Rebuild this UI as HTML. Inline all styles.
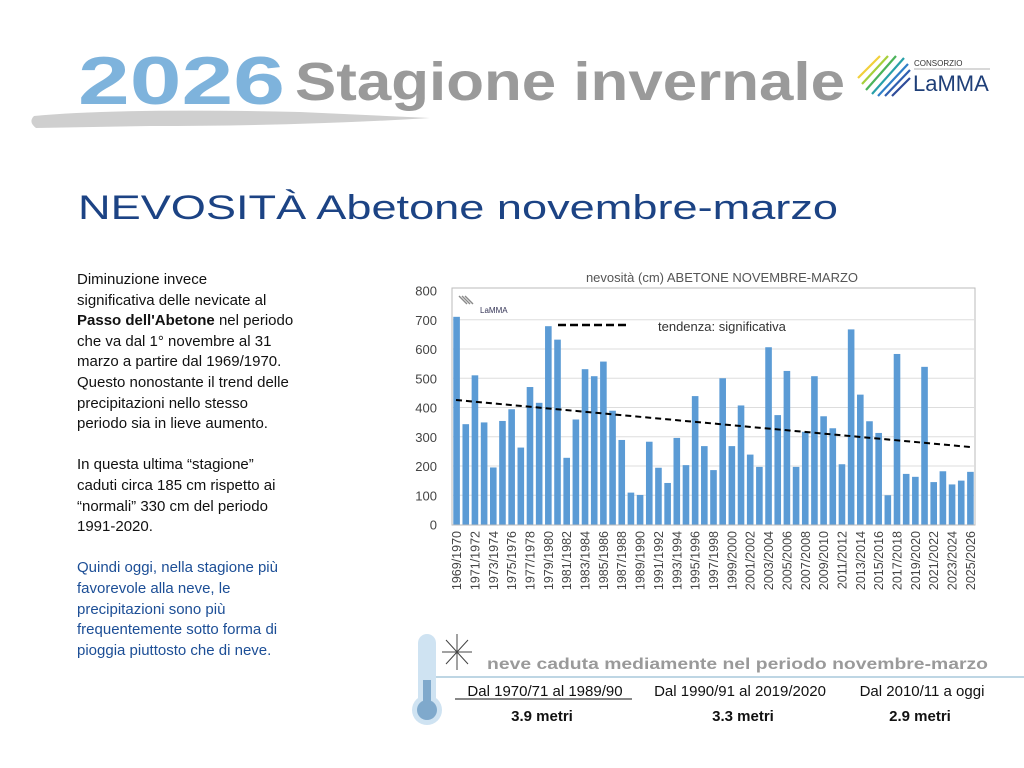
<!DOCTYPE html>
<html><head><meta charset="utf-8"><style>
body{margin:0;width:1024px;height:768px;background:#fff;overflow:hidden;position:relative;font-family:"Liberation Sans",sans-serif}
.abs{position:absolute;white-space:nowrap}
</style></head><body>
<svg width="1024" height="768" style="position:absolute;left:0;top:0" id="s">
<path d="M34 116 Q120 108 300 112 L430 118 Q300 126 150 126 L36 128 Q28 122 34 116Z" fill="#cfcfcf"/>
<text x="78" y="104" font-family="Liberation Sans" font-weight="bold" font-size="68" fill="#7eb3dc" textLength="207" lengthAdjust="spacingAndGlyphs">2026</text>
<text x="295" y="100" font-family="Liberation Sans" font-weight="bold" font-size="54" fill="#9a9a9a" textLength="550" lengthAdjust="spacingAndGlyphs">Stagione invernale</text>
<g stroke-width="2.2">
<line x1="858" y1="78" x2="880" y2="56" stroke="#f2d03a"/><line x1="862" y1="84" x2="888" y2="56" stroke="#a6cf3a"/>
<line x1="866" y1="90" x2="896" y2="56" stroke="#4cb35a"/><line x1="872" y1="94" x2="904" y2="58" stroke="#28a0a8"/>
<line x1="878" y1="96" x2="908" y2="64" stroke="#2f7fc8"/><line x1="885" y1="96" x2="910" y2="70" stroke="#2f5fb0"/>
<line x1="892" y1="96" x2="910" y2="78" stroke="#2f4c9a"/></g>
<text x="914" y="66" font-size="8" fill="#333">CONSORZIO</text>
<line x1="914" y1="69" x2="990" y2="69" stroke="#999" stroke-width="0.8"/>
<text x="913" y="91" font-size="22" fill="#1f3f78">LaMMA</text>
<text x="78" y="219" font-size="34" fill="#1c4384" textLength="760" lengthAdjust="spacingAndGlyphs">NEVOSITÀ Abetone  novembre-marzo</text>
<text x="722" y="282" font-size="13" fill="#555" text-anchor="middle">nevosità (cm) ABETONE NOVEMBRE-MARZO</text>
<rect x="452" y="288" width="523" height="237" fill="none" stroke="#bbb"/>
<g id="g"></g>
<g stroke="#8a8a8a" stroke-width="1.4"><line x1="459" y1="296" x2="467" y2="304"/><line x1="462" y1="296" x2="470" y2="304"/><line x1="465" y1="296" x2="473" y2="304"/></g>
<text x="480" y="313" font-size="8" fill="#335">LaMMA</text>
<line x1="558" y1="325" x2="628" y2="325" stroke="#000" stroke-width="2.5" stroke-dasharray="8,4"/>
<text x="658" y="331" font-size="13" fill="#333">tendenza: significativa</text>
<line x1="418" y1="677" x2="1024" y2="677" stroke="#a9c9dc" stroke-width="1.5"/>
<rect x="418" y="634" width="18" height="80" rx="9" fill="#cfe3f2"/>
<circle cx="427" cy="710" r="15" fill="#cfe3f2"/><circle cx="427" cy="710" r="10" fill="#7fa9cc"/>
<rect x="423" y="680" width="8" height="30" fill="#7fa9cc"/>
<g stroke="#444" stroke-width="1"><line x1="457" y1="634" x2="457" y2="670"/><line x1="442" y1="652" x2="472" y2="652"/><line x1="446" y1="640" x2="468" y2="664"/><line x1="446" y1="664" x2="468" y2="640"/></g>
<text x="487" y="669" font-size="16" font-weight="bold" fill="#9a9a9a" textLength="501" lengthAdjust="spacingAndGlyphs">neve caduta mediamente nel periodo novembre-marzo</text>
<text x="545" y="696" font-size="15" text-anchor="middle" fill="#111">Dal 1970/71 al 1989/90</text>
<line x1="455" y1="699" x2="632" y2="699" stroke="#111"/>
<text x="740" y="696" font-size="15" text-anchor="middle" fill="#111">Dal 1990/91 al 2019/2020</text>
<text x="922" y="696" font-size="15" text-anchor="middle" fill="#111">Dal 2010/11 a oggi</text>
<text x="542" y="721" font-size="15" font-weight="bold" text-anchor="middle" fill="#111">3.9 metri</text>
<text x="743" y="721" font-size="15" font-weight="bold" text-anchor="middle" fill="#111">3.3  metri</text>
<text x="920" y="721" font-size="15" font-weight="bold" text-anchor="middle" fill="#111">2.9 metri</text>
</svg>
<div class="abs" style="left:77px;top:270px;font-size:15px;line-height:20.6px;color:#111">
Diminuzione invece<br>significativa delle nevicate al<br><b>Passo dell'Abetone</b> nel periodo<br>che va dal 1° novembre al 31<br>marzo a partire dal 1969/1970.<br>Questo nonostante il trend delle<br>precipitazioni nello stesso<br>periodo sia in lieve aumento.<br><br>In questa ultima “stagione”<br>caduti circa 185 cm rispetto ai<br>“normali” 330 cm del periodo<br>1991-2020.<br><br><span style="color:#1c4e96">Quindi oggi, nella stagione più<br>favorevole alla neve, le<br>precipitazioni sono più<br>frequentemente sotto forma di<br>pioggia piuttosto che di neve.</span></div>
<script>
var v=[710,343,510,349,195,354,394,263,470,416,678,632,228,359,531,507,557,389,289,109,101,283,194,142,296,203,439,268,186,500,268,407,239,197,606,374,525,197,317,507,370,329,206,667,444,353,313,100,583,173,163,539,145,182,137,150,180];
var g=document.getElementById('g'),h='',y0=524.5,k=0.2925,p=523/57;
for(var i=0;i<=8;i++){var y=y0-i*100*k;if(i>0&&i<8)h+='<line x1="452" x2="975" y1="'+y+'" y2="'+y+'" stroke="#ddd"/>';h+='<text x="437" y="'+(y+5)+'" font-size="13" fill="#444" text-anchor="end">'+(i*100)+'</text>';}
for(var j=0;j<57;j++){var cx=452+p*(j+0.5),t=y0-v[j]*k;h+='<rect x="'+(cx-3.3)+'" y="'+t+'" width="6.6" height="'+(y0-t)+'" fill="#5b9bd5"/>';
if(j%2==0){var a=1969+j;h+='<text transform="translate('+(cx+4.5)+',531) rotate(-90)" font-size="12.5" fill="#444" text-anchor="end">'+a+'/'+(a+1)+'</text>';}}
h+='<line x1="456" y1="400" x2="970" y2="447" stroke="#000" stroke-width="2" stroke-dasharray="6,4"/>';
g.innerHTML=h;
</script>
</body></html>
